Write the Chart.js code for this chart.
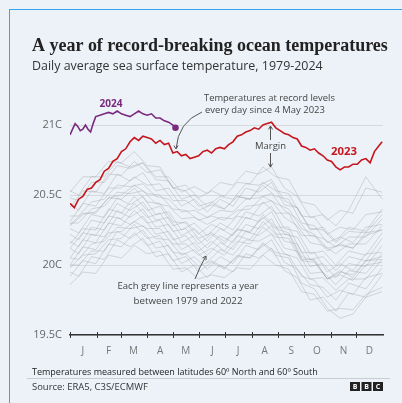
<!DOCTYPE html>
<html>
<head>
<meta charset="utf-8">
<script src="https://cdn.jsdelivr.net/npm/chart.js@4"></script>
<style>
  html, body { margin: 0; padding: 0; background: #edf2f8; }
  #wrap { position: relative; width: 402px; height: 403px; overflow: hidden; }
  #frame { position: absolute; left: 9px; top: 9px; width: 400px; height: 400px;
           border-top: 1.5px solid #35a6ee; border-left: 1.5px solid #35a6ee; }
  #chart { position: absolute; left: 0; top: 0; }
</style>
</head>
<body>
<div id="wrap">
  <div id="frame"></div>
  <canvas id="chart" width="402" height="403"></canvas>
</div>
<script>
const ctx = document.querySelector('#chart').getContext('2d');

// month letters sit mid-month, tick marks at month starts
const monthLabels = ['J', 'F', 'M', 'A', 'M', 'J', 'J', 'A', 'S', 'O', 'N', 'D'];
const monthMid = [15, 45, 74, 105, 135, 166, 196, 227, 258, 288, 319, 349];
const monthStart = [0, 31, 59, 90, 120, 151, 181, 212, 243, 273, 304, 334];
const yTicks = [19.5, 20, 20.5, 21];

// 2023 - every 5 days, last point day 364
const days2023 = [0,5,10,15,20,25,30,35,40,45,50,55,60,65,70,75,80,85,90,95,100,105,110,115,120,125,130,135,140,145,150,155,160,165,170,175,180,185,190,195,200,205,210,215,220,225,230,235,240,245,250,255,260,265,270,275,280,285,290,295,300,305,310,315,320,325,330,335,340,345,350,355,360,364];
const temps2023 = [20.44,20.41,20.47,20.49,20.54,20.55,20.59,20.61,20.67,20.69,20.74,20.76,20.81,20.83,20.88,20.91,20.89,20.92,20.91,20.90,20.87,20.89,20.86,20.87,20.80,20.81,20.78,20.79,20.76,20.77,20.78,20.81,20.82,20.80,20.83,20.84,20.83,20.86,20.88,20.92,20.93,20.95,20.96,20.98,20.97,21.00,21.01,21.02,20.98,20.96,20.94,20.93,20.91,20.90,20.85,20.84,20.82,20.83,20.80,20.78,20.75,20.74,20.70,20.68,20.70,20.70,20.72,20.72,20.75,20.76,20.73,20.81,20.85,20.88];

// 2024 - up to early May
const days2024 = [0,3,6,9,12,15,18,21,24,27,30,35,40,45,50,55,60,65,70,75,80,85,90,95,100,105,110,115,120,123];
const temps2024 = [20.93,20.97,21.01,20.99,20.96,20.97,21.00,20.97,20.95,21.01,21.06,21.07,21.08,21.09,21.08,21.10,21.08,21.07,21.06,21.08,21.10,21.08,21.07,21.08,21.05,21.05,21.03,21.02,21.00,20.98];

// grey years 1979-2022, sampled about every 15 days (two staggered grids)
const greyDaysA = [0,15,30,45,60,75,90,105,120,135,150,165,180,195,210,225,240,255,270,285,300,315,330,345,364];
const greyDaysB = [0,10,25,40,55,70,85,100,115,130,145,160,175,190,205,220,235,250,265,280,295,310,325,345,364];
const greyYears = [
  [19.86,19.95,19.94,20.07,20.05,20.14,20.08,20.10,19.97,19.98,19.90,19.93,19.91,19.98,19.97,20.07,20.00,19.97,19.81,19.79,19.67,19.69,19.68,19.79,19.84],
  [19.95,19.92,20.06,20.04,20.18,20.13,20.19,20.06,20.08,19.95,20.00,19.91,20.00,19.95,20.08,20.05,20.12,19.96,19.91,19.75,19.77,19.67,19.80,19.77,19.93],
  [19.92,20.03,20.01,20.15,20.13,20.23,20.14,20.17,20.03,20.06,19.95,20.02,19.97,20.07,20.05,20.16,20.09,20.07,19.92,19.89,19.77,19.82,19.79,19.91,19.94],
  [20.00,20.00,20.10,20.10,20.24,20.19,20.25,20.12,20.14,20.01,20.06,19.97,20.06,20.01,20.14,20.11,20.18,20.02,19.97,19.86,19.84,19.75,19.87,19.83,19.98],
  [19.98,20.07,20.08,20.18,20.19,20.29,20.19,20.21,20.09,20.08,19.99,20.03,19.98,20.06,20.05,20.15,20.07,20.05,19.87,19.83,19.69,19.62,19.65,19.77,19.81],
  [20.05,20.04,20.15,20.17,20.27,20.26,20.28,20.19,20.18,20.07,20.11,20.02,20.11,20.07,20.18,20.17,20.22,20.08,20.05,19.90,19.91,19.82,19.90,19.90,20.04],
  [20.00,20.13,20.11,20.23,20.24,20.31,20.26,20.26,20.15,20.15,20.07,20.12,20.07,20.17,20.15,20.27,20.20,20.19,20.03,20.02,19.90,19.95,19.93,20.03,20.06],
  [20.12,20.08,20.22,20.20,20.34,20.29,20.35,20.22,20.24,20.11,20.16,20.07,20.16,20.11,20.24,20.21,20.28,20.12,20.10,19.94,19.95,19.86,19.96,19.94,20.08],
  [20.05,20.18,20.16,20.30,20.28,20.39,20.30,20.32,20.18,20.21,20.10,20.17,20.10,20.21,20.18,20.31,20.22,20.22,20.04,20.04,19.90,19.96,19.91,20.03,20.04],
  [20.17,20.13,20.27,20.25,20.39,20.34,20.40,20.27,20.29,20.16,20.21,20.12,20.21,20.16,20.29,20.26,20.33,20.17,20.15,19.99,20.01,19.91,20.01,19.99,20.14],
  [20.12,20.23,20.21,20.35,20.33,20.44,20.34,20.37,20.24,20.26,20.15,20.22,20.15,20.26,20.23,20.36,20.27,20.27,20.09,20.09,19.95,20.01,19.96,20.08,20.09],
  [20.22,20.18,20.32,20.30,20.44,20.39,20.45,20.32,20.34,20.21,20.26,20.17,20.26,20.21,20.34,20.31,20.38,20.22,20.20,20.04,20.06,19.96,20.06,20.03,20.19],
  [20.15,20.26,20.25,20.40,20.37,20.49,20.39,20.42,20.28,20.31,20.22,20.29,20.25,20.35,20.33,20.45,20.37,20.37,20.21,20.21,20.10,20.15,20.12,20.23,20.25],
  [20.26,20.23,20.36,20.34,20.48,20.43,20.49,20.36,20.38,20.25,20.30,20.21,20.30,20.25,20.38,20.35,20.42,20.26,20.24,20.08,20.10,20.00,20.10,20.07,20.23],
  [20.29,20.37,20.37,20.48,20.47,20.55,20.45,20.44,20.31,20.30,20.19,20.23,20.17,20.25,20.24,20.34,20.26,20.23,20.06,20.03,19.90,19.93,19.89,20.00,20.02],
  [20.30,20.30,20.40,20.42,20.52,20.51,20.53,20.44,20.42,20.33,20.34,20.29,20.34,20.33,20.42,20.43,20.46,20.34,20.28,20.16,20.14,20.08,20.15,20.15,20.28],
  [20.28,20.36,20.38,20.48,20.50,20.57,20.51,20.50,20.40,20.39,20.32,20.35,20.32,20.39,20.40,20.49,20.44,20.40,20.26,20.22,20.12,20.14,20.12,20.21,20.25],
  [20.35,20.35,20.45,20.47,20.57,20.56,20.58,20.49,20.47,20.38,20.39,20.34,20.39,20.38,20.47,20.48,20.51,20.39,20.33,20.21,20.19,20.13,20.20,20.20,20.33],
  [20.31,20.44,20.42,20.55,20.55,20.63,20.57,20.58,20.46,20.46,20.39,20.43,20.40,20.49,20.47,20.59,20.53,20.51,20.35,20.34,20.22,20.27,20.25,20.36,20.38],
  [20.44,20.39,20.53,20.51,20.65,20.60,20.66,20.53,20.55,20.42,20.47,20.38,20.47,20.42,20.55,20.52,20.59,20.43,20.41,20.25,20.27,20.17,20.27,20.24,20.40],
  [20.52,20.63,20.63,20.74,20.73,20.81,20.71,20.70,20.55,20.53,20.42,20.45,20.40,20.49,20.47,20.57,20.49,20.47,20.30,20.28,20.16,20.20,20.16,20.27,20.29],
  [20.53,20.50,20.63,20.63,20.74,20.70,20.73,20.61,20.60,20.47,20.50,20.42,20.49,20.47,20.58,20.57,20.61,20.46,20.41,20.26,20.25,20.16,20.24,20.23,20.36],
  [20.41,20.53,20.52,20.65,20.64,20.74,20.66,20.68,20.55,20.57,20.48,20.53,20.49,20.59,20.58,20.70,20.63,20.61,20.45,20.43,20.32,20.39,20.37,20.55,20.52],
  [20.48,20.46,20.59,20.59,20.71,20.69,20.73,20.63,20.63,20.52,20.56,20.51,20.59,20.57,20.67,20.65,20.70,20.55,20.49,20.34,20.36,20.28,20.39,20.63,20.47]
];

const RED = '#c4161c';
const PURPLE = '#7a2a7e';
const SANS = '"Open Sans", sans-serif';

const toPoints = (xs, ys) => xs.map((x, i) => ({x: x, y: ys[i]}));

// draw text squeezed/stretched to a given width
function fitText(c, text, x, y, width, weight, family, color, align) {
    c.font = weight + ' 20px ' + family;
    const size = 20 * width / c.measureText(text).width;
    c.font = weight + ' ' + size.toFixed(2) + 'px ' + family;
    c.fillStyle = color;
    c.textAlign = align || 'left';
    c.textBaseline = 'middle';
    c.fillText(text, x, y);
}

function arrowHead(c, x, y, angle) {
    c.beginPath();
    c.moveTo(x + Math.cos(angle + 2.6) * 4, y + Math.sin(angle + 2.6) * 4);
    c.lineTo(x, y);
    c.lineTo(x + Math.cos(angle - 2.6) * 4, y + Math.sin(angle - 2.6) * 4);
    c.stroke();
}

const extras = {
    id: 'extras',
    afterDraw(chart) {
        const c = chart.ctx;
        const xs = chart.scales.x;
        const area = chart.chartArea;
        c.save();

        // month tick marks on the baseline
        c.strokeStyle = '#333';
        c.lineWidth = 1;
        monthStart.forEach(d => {
            const px = Math.round(xs.getPixelForValue(d)) + 0.5;
            c.beginPath();
            c.moveTo(px, area.bottom - 3);
            c.lineTo(px, area.bottom + 3);
            c.stroke();
        });

        // titles
        fitText(c, 'A year of record-breaking ocean temperatures', 32, 46, 356, 'bold', '"Liberation Serif", serif', '#222');
        fitText(c, 'Daily average sea surface temperature, 1979-2024', 32, 66, 291, 'normal', SANS, '#333');

        // series labels
        fitText(c, '2024', 111, 104, 23, 'bold', SANS, PURPLE, 'center');
        fitText(c, '2023', 344, 152, 26, 'bold', SANS, RED, 'center');

        // record note + arrow
        fitText(c, 'Temperatures at record levels', 204, 98, 131, 'normal', SANS, '#444');
        fitText(c, 'every day since 4 May 2023', 205, 110, 120, 'normal', SANS, '#444');
        c.strokeStyle = '#555';
        c.lineWidth = 1;
        c.beginPath();
        c.moveTo(202, 112);
        c.quadraticCurveTo(178, 122, 176, 149);
        c.stroke();
        arrowHead(c, 176, 149, Math.PI / 2);

        // margin
        const mx = Math.round(xs.getPixelForValue(233)) + 0.5;
        fitText(c, 'Margin', mx, 146, 31, 'normal', SANS, '#444', 'center');
        c.beginPath();
        c.moveTo(mx, 140); c.lineTo(mx, 126);
        c.moveTo(mx, 153); c.lineTo(mx, 167);
        c.stroke();
        arrowHead(c, mx, 126, -Math.PI / 2);
        arrowHead(c, mx, 167, Math.PI / 2);

        // grey note + arrow
        fitText(c, 'Each grey line represents a year', 188, 286, 141, 'normal', SANS, '#444', 'center');
        fitText(c, 'between 1979 and 2022', 188, 301, 109, 'normal', SANS, '#444', 'center');
        c.beginPath();
        c.moveTo(195, 279);
        c.quadraticCurveTo(200, 266, 206, 256);
        c.stroke();
        arrowHead(c, 206, 256, -1.05);

        // footer
        fitText(c, 'Temperatures measured between latitudes 60º North and 60º South', 32, 372, 286, 'normal', SANS, '#222');
        c.strokeStyle = '#c9ccd0';
        c.beginPath();
        c.moveTo(27, 378.5); c.lineTo(390, 378.5);
        c.stroke();
        fitText(c, 'Source: ERA5, C3S/ECMWF', 32, 387, 116, 'normal', SANS, '#333');

        // BBC blocks
        ['B', 'B', 'C'].forEach((ch, i) => {
            const bx = 350 + i * 11.5;
            c.fillStyle = '#222';
            c.fillRect(bx, 382, 10, 9);
            c.fillStyle = '#fff';
            c.font = 'bold 7px ' + SANS;
            c.textAlign = 'center';
            c.textBaseline = 'middle';
            c.fillText(ch, bx + 5, 386.8);
        });
        c.restore();
    }
};

const greySets = greyYears.map((vals, i) => ({
    data: toPoints(i % 2 ? greyDaysB : greyDaysA, vals),
    borderColor: 'rgba(145,145,145,0.42)',
    borderWidth: 0.75,
    pointRadius: 0,
    tension: 0,
}));

const chart = new Chart(ctx, {
    type: 'line',
    data: {
        datasets: [{
            label: '2024',
            data: toPoints(days2024, temps2024),
            borderColor: PURPLE,
            backgroundColor: PURPLE,
            borderWidth: 1.6,
            pointRadius: (c) => c.dataIndex === temps2024.length - 1 ? 2.5 : 0,
            tension: 0,
        }, {
            label: '2023',
            data: toPoints(days2023, temps2023),
            borderColor: RED,
            borderWidth: 1.6,
            pointRadius: 0,
            tension: 0,
        }].concat(greySets)
    },
    options: {
        responsive: false,
        animation: false,
        layout: {
            padding: {top: 90, right: 19, left: 0, bottom: 0}
        },
        scales: {
            x: {
                type: 'linear',
                min: 0,
                max: 365,
                afterBuildTicks: (s) => { s.ticks = monthMid.map(v => ({value: v})); },
                afterFit: (s) => { s.height = 68; },
                grid: {display: false, drawTicks: false},
                border: {display: true, color: '#333', width: 1.5},
                ticks: {
                    color: '#777',
                    font: {size: 10, family: SANS},
                    padding: 10,
                    maxRotation: 0,
                    autoSkip: false,
                    callback: (v, i) => monthLabels[i],
                }
            },
            y: {
                min: 19.5,
                max: 21.25,
                afterBuildTicks: (s) => { s.ticks = yTicks.map(v => ({value: v})); },
                afterFit: (s) => { s.width = 70; },
                grid: {color: '#d6dade', drawTicks: false},
                border: {display: false},
                ticks: {
                    color: '#666',
                    font: {size: 11, family: SANS},
                    padding: 8,
                    callback: (v) => v + 'C',
                }
            }
        },
        plugins: {
            legend: {display: false},
            tooltip: {enabled: false},
        }
    },
    plugins: [extras]
});
</script>
</body>
</html>
